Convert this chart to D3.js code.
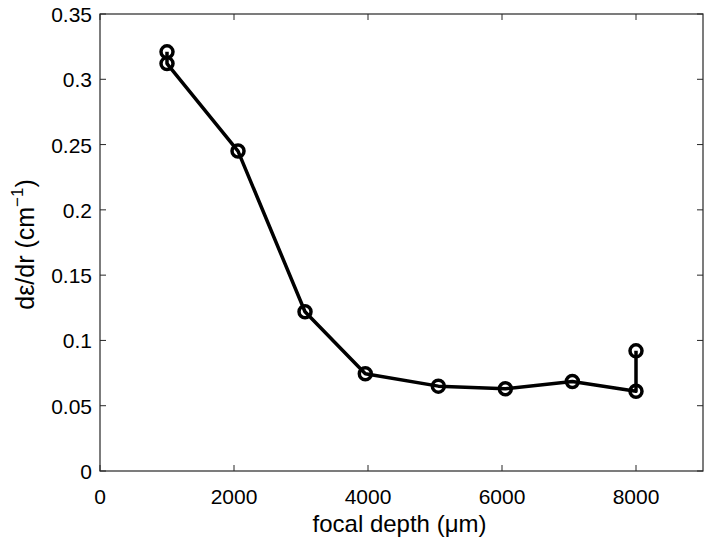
<!DOCTYPE html>
<html>
<head>
<meta charset="utf-8">
<script src="https://cdn.jsdelivr.net/npm/d3@7"></script>
<style>
  body { margin: 0; background: #fff; }
  text { font-family: "Liberation Sans", Arial, sans-serif; fill: #000; }
</style>
</head>
<body>
<svg width="710" height="542"></svg>
<script>
// focal depth (um) and slope values, in drawing order
const depth = [1000, 1000, 2060, 3060, 3960, 5050, 6050, 7050, 8000, 8000];
const slope = [0.321, 0.312, 0.245, 0.122, 0.0745, 0.065, 0.063, 0.0685, 0.061, 0.092];

const xTicks = [0, 2000, 4000, 6000, 8000];
const yTicks = [0, 0.05, 0.1, 0.15, 0.2, 0.25, 0.3, 0.35];

const svg = d3.select("svg");
const margin = { top: 14, right: 7, bottom: 71, left: 100 };
const width = +svg.attr("width") - margin.left - margin.right;
const height = +svg.attr("height") - margin.top - margin.bottom;

const x = d3.scaleLinear().domain([0, 9000]).range([0, width]);
const y = d3.scaleLinear().domain([0, 0.35]).range([height, 0]);

const g = svg.append("g").attr("transform", "translate(" + margin.left + "," + margin.top + ")");

// box
g.append("rect")
  .attr("width", width)
  .attr("height", height)
  .attr("fill", "none")
  .attr("stroke", "#262626")
  .attr("stroke-width", 1.2);

// ticks, inward on all four sides
const tickLen = 6;
const fmtY = d => d === 0 ? "0" : String(+d.toFixed(2));

g.selectAll(".xt").data(xTicks).enter().append("path")
  .attr("d", d => "M" + x(d) + "," + height + "v" + (-tickLen) + "M" + x(d) + ",0v" + tickLen)
  .attr("stroke", "#262626");
g.selectAll(".yt").data(yTicks).enter().append("path")
  .attr("d", d => "M0," + y(d) + "h" + tickLen + "M" + width + "," + y(d) + "h" + (-tickLen))
  .attr("stroke", "#262626");

g.selectAll(".xl").data(xTicks).enter().append("text")
  .attr("x", d => x(d))
  .attr("y", height + 33)
  .attr("text-anchor", "middle")
  .style("font-size", "21px")
  .text(d => d);

g.selectAll(".yl").data(yTicks).enter().append("text")
  .attr("x", -8)
  .attr("y", d => y(d) + 8)
  .attr("text-anchor", "end")
  .style("font-size", "21px")
  .text(fmtY);

// axis titles
g.append("text")
  .attr("x", width / 2 - 2)
  .attr("y", height + 61)
  .attr("text-anchor", "middle")
  .style("font-size", "24px")
  .text("focal depth (\u03bcm)");

const yl = g.append("text")
  .attr("transform", "translate(-66," + (height / 2 + 2) + ") rotate(-90)")
  .attr("text-anchor", "middle")
  .style("font-size", "25px");
yl.append("tspan").text("d\u03b5/dr (cm");
yl.append("tspan").attr("dy", -11).style("font-size", "17px").text("\u22121");
yl.append("tspan").attr("dy", 11).text(")");

// data line and markers
const pts = depth.map((d, i) => [d, slope[i]]);
const line = d3.line().x(d => x(d[0])).y(d => y(d[1]));

g.append("path")
  .datum(pts)
  .attr("d", line)
  .attr("fill", "none")
  .attr("stroke", "#000")
  .attr("stroke-width", 3.5)
  .attr("stroke-linejoin", "round");

g.selectAll(".pt").data(pts).enter().append("circle")
  .attr("cx", d => x(d[0]))
  .attr("cy", d => y(d[1]))
  .attr("r", 6)
  .attr("fill", "none")
  .attr("stroke", "#000")
  .attr("stroke-width", 3.5);
</script>
</body>
</html>
